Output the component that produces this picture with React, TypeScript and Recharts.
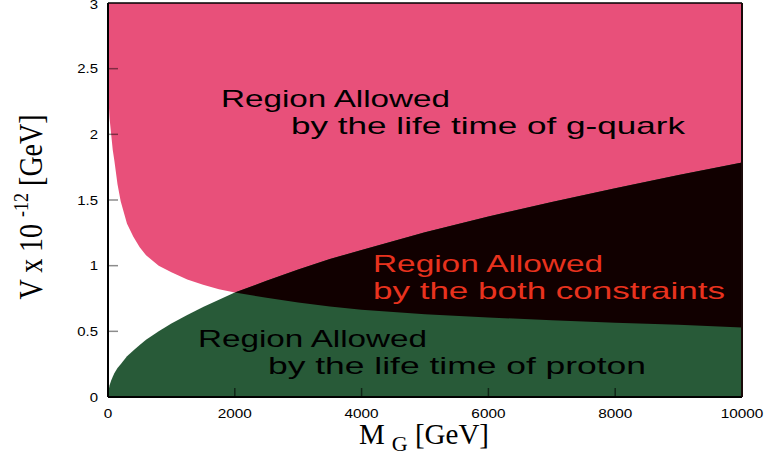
import { Area, ComposedChart, ReferenceLine, XAxis, YAxis } from "recharts";

// mass points (GeV)
const masses = [
  0, 10, 25, 50, 75, 100, 150, 200, 300, 400, 500, 600, 800, 1000, 1250, 1500, 1750, 2000,
  2500, 3000, 3500, 4000, 5000, 6000, 7000, 8000, 9000, 10000,
];
// lower edge of the g-quark lifetime region
const quarkBound = [
  2.3, 2.25, 2.12, 2.0, 1.88, 1.8, 1.62, 1.49, 1.32, 1.22, 1.14, 1.08, 1.0, 0.95, 0.895, 0.855,
  0.82, 0.795, 0.755, 0.72, 0.69, 0.665, 0.63, 0.605, 0.585, 0.565, 0.55, 0.53,
];
// upper edge of the proton lifetime region
const protonBound = [
  0, 0.05, 0.09, 0.125, 0.155, 0.18, 0.22, 0.25, 0.31, 0.355, 0.395, 0.435, 0.5, 0.56, 0.625,
  0.685, 0.74, 0.795, 0.885, 0.97, 1.05, 1.12, 1.255, 1.375, 1.485, 1.59, 1.69, 1.785,
];
const yMax = 3;
const xTicks = [0, 2000, 4000, 6000, 8000, 10000];
const yTicks = [0, 0.5, 1, 1.5, 2, 2.5, 3];

const data = masses.map((m, i) => ({
  m,
  quark: [quarkBound[i], yMax],
  proton: protonBound[i],
  both: protonBound[i] >= quarkBound[i] ? [quarkBound[i], protonBound[i]] : null,
}));

const PINK = "#E8507A";
const GREEN = "#285A38";
const DARK = "#110000";
const RED = "#E8321E";
const SANS = "'Liberation Sans', Arial, sans-serif";
const SERIF = "'Liberation Serif', 'Times New Roman', serif";

function LeftTick({ x, y, payload }: any) {
  const edge = payload.value === 0 || payload.value === yMax;
  return (
    <g>
      {!edge && <line x1={x} x2={x + 10} y1={y} y2={y} stroke="#000" strokeOpacity={0.45} strokeWidth={1.5} />}
      <text
        transform={`translate(${x - 10},${y + (payload.value === yMax ? 1 : 0)}) scale(1.15,1)`}
        textAnchor="end"
        dy="0.36em"
        fontSize={13}
        fontFamily={SANS}
        fill="#000"
      >
        {payload.value}
      </text>
    </g>
  );
}

function RightTick({ x, y, payload }: any) {
  if (payload.value === 0 || payload.value === yMax) return <g />;
  return <line x1={x - 10} x2={x} y1={y} y2={y} stroke="#000" strokeOpacity={0.45} strokeWidth={1.5} />;
}

function BottomTick({ x, y, payload }: any) {
  const edge = payload.value === 0 || payload.value === 10000;
  return (
    <g>
      {!edge && <line x1={x} x2={x} y1={y} y2={y - 9} stroke="#000" strokeOpacity={0.6} strokeWidth={1.5} />}
      <text
        transform={`translate(${x},${y + 16}) scale(1.18,1)`}
        textAnchor="middle"
        dy="0.36em"
        fontSize={13}
        fontFamily={SANS}
        fill="#000"
      >
        {payload.value}
      </text>
    </g>
  );
}

function RegionText({ x, y, len, fill, children }: any) {
  return (
    <text
      x={x}
      y={y}
      textLength={len}
      lengthAdjust="spacingAndGlyphs"
      fontSize={24}
      fontFamily={SANS}
      fill={fill}
    >
      {children}
    </text>
  );
}

export default function App() {
  return (
    <div style={{ position: "absolute", left: 0, top: 0, width: 764, height: 455 }}>
      <ComposedChart width={764} height={455} data={data} margin={{ top: 3, right: 0, bottom: 0, left: 0 }}>
        <XAxis
          dataKey="m"
          type="number"
          domain={[0, 10000]}
          ticks={xTicks}
          height={58}
          tickSize={0}
          tickMargin={0}
          tickLine={false}
          tick={<BottomTick />}
          axisLine={{ stroke: "#000", strokeWidth: 2 }}
          interval={0}
        />
        <YAxis
          yAxisId="l"
          type="number"
          domain={[0, yMax]}
          ticks={yTicks}
          width={108}
          tickSize={0}
          tickMargin={0}
          tickLine={false}
          tick={<LeftTick />}
          axisLine={{ stroke: "#000", strokeWidth: 2 }}
          interval={0}
        />
        <YAxis
          yAxisId="r"
          orientation="right"
          type="number"
          domain={[0, yMax]}
          ticks={yTicks}
          width={22}
          tickSize={0}
          tickMargin={0}
          tickLine={false}
          tick={<RightTick />}
          axisLine={{ stroke: "#1a0a0a", strokeWidth: 2 }}
          interval={0}
        />
        <Area yAxisId="l" type="linear" dataKey="quark" fill={PINK} fillOpacity={1} stroke="none" isAnimationActive={false} />
        <Area yAxisId="l" type="linear" dataKey="proton" fill={GREEN} fillOpacity={1} stroke="none" isAnimationActive={false} />
        <Area yAxisId="l" type="linear" dataKey="both" fill={DARK} fillOpacity={1} stroke="none" isAnimationActive={false} />
        <ReferenceLine yAxisId="l" y={yMax} stroke="#000" strokeWidth={1.5} />
      </ComposedChart>
      <svg width={764} height={455} style={{ position: "absolute", left: 0, top: 0, pointerEvents: "none" }}>
        <RegionText x={221} y={107} len={229} fill="#000">Region Allowed</RegionText>
        <RegionText x={291} y={134} len={394} fill="#000">by the life time of g-quark</RegionText>
        <RegionText x={373} y={272} len={230} fill={RED}>Region Allowed</RegionText>
        <RegionText x={373} y={299} len={352} fill={RED}>by the both constraints</RegionText>
        <RegionText x={198} y={347} len={229} fill="#000">Region Allowed</RegionText>
        <RegionText x={268} y={374} len={378} fill="#000">by the life time of proton</RegionText>
        <text
          transform="translate(42,207) rotate(-90) scale(1,1.2)"
          textAnchor="middle"
          fontSize={28}
          fontFamily={SERIF}
          fill="#000"
        >
          V x 10
          <tspan dx={7} dy={-12} fontSize={18}>-12</tspan>
          <tspan dy={12}> [GeV]</tspan>
        </text>
        <text x={424} y={444} textAnchor="middle" fontSize={29} fontFamily={SERIF} fill="#000">
          M
          <tspan dx={7} dy={7} fontSize={22}>G</tspan>
          <tspan dy={-7}> [GeV]</tspan>
        </text>
      </svg>
    </div>
  );
}
